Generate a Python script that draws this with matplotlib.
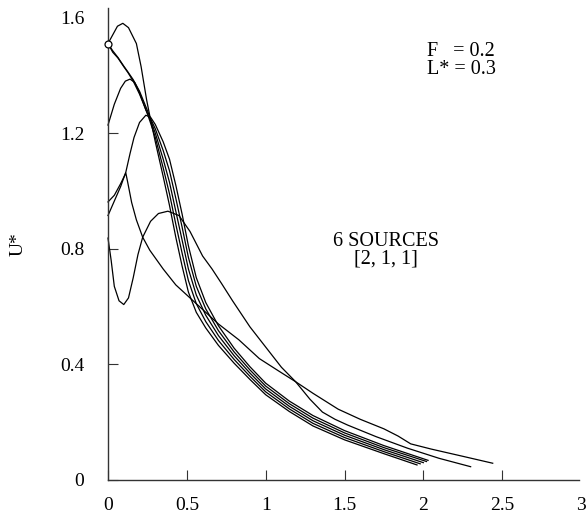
import matplotlib
matplotlib.use('Agg')
import matplotlib.pyplot as plt

plt.rcParams['font.family'] = ['Liberation Serif', 'DejaVu Serif']

# bundle of five curves (tail shared x grid)
tail_x = [0.30, 0.35, 0.39, 0.43, 0.47, 0.51, 0.56, 0.62, 0.70, 0.80, 0.90, 1.00, 1.15, 1.30, 1.50, 1.75]

a_x = [0.0, 0.03, 0.06, 0.094, 0.13, 0.18, 0.21, 0.245, 0.265] + tail_x + [1.96]
a_y = [1.51, 1.54, 1.57, 1.58, 1.565, 1.51, 1.43, 1.315, 1.26,
       1.17, 1.05, 0.95, 0.84, 0.74, 0.65, 0.58, 0.526, 0.466, 0.404, 0.348, 0.295, 0.237, 0.187, 0.139, 0.091, 0.052]

b_x = [0.0, 0.03, 0.063, 0.10, 0.126, 0.16, 0.20, 0.245, 0.27] + tail_x + [1.98]
b_y = [1.51, 1.48, 1.46, 1.43, 1.41, 1.38, 1.335, 1.275, 1.235,
       1.185, 1.08, 0.99, 0.885, 0.785, 0.69, 0.61, 0.548, 0.483, 0.417, 0.359, 0.305, 0.246, 0.196, 0.147, 0.098, 0.056]

c_x = [0.0, 0.04, 0.08, 0.11, 0.14, 0.17, 0.20, 0.24, 0.27] + tail_x + [2.00]
c_y = [1.228, 1.30, 1.355, 1.38, 1.387, 1.375, 1.34, 1.28, 1.245,
       1.20, 1.11, 1.03, 0.93, 0.83, 0.73, 0.64, 0.57, 0.50, 0.43, 0.37, 0.315, 0.255, 0.205, 0.155, 0.105, 0.06]

d_x = [0.0, 0.03, 0.063, 0.10, 0.126, 0.16, 0.20, 0.245, 0.27] + tail_x + [2.02]
d_y = [1.51, 1.485, 1.462, 1.432, 1.412, 1.385, 1.345, 1.285, 1.25,
       1.215, 1.14, 1.07, 0.975, 0.875, 0.77, 0.67, 0.592, 0.517, 0.443, 0.381, 0.325, 0.264, 0.214, 0.163, 0.112, 0.064]

e_x = [0.0, 0.04, 0.08, 0.113, 0.14, 0.165, 0.20, 0.24, 0.27] + tail_x + [2.03]
e_y = [0.915, 0.965, 1.015, 1.065, 1.13, 1.185, 1.237, 1.262, 1.255,
       1.23, 1.17, 1.11, 1.02, 0.92, 0.81, 0.70, 0.614, 0.534, 0.456, 0.392, 0.335, 0.273, 0.223, 0.171, 0.119, 0.068]

# curve with sharp peak near 1.06, ending at 2.44
f_x = [0.0, 0.04, 0.08, 0.113, 0.125, 0.15, 0.18, 0.22, 0.265, 0.35, 0.43, 0.52, 0.58, 0.70, 0.83,
       0.96, 1.08, 1.19, 1.30, 1.46, 1.60, 1.75, 1.84, 1.92, 2.05, 2.25, 2.44]
f_y = [0.962, 0.985, 1.025, 1.062, 1.03, 0.96, 0.90, 0.84, 0.795, 0.73, 0.675, 0.63, 0.60, 0.54, 0.485,
       0.42, 0.378, 0.34, 0.30, 0.245, 0.21, 0.177, 0.152, 0.125, 0.107, 0.082, 0.058]

# curve with dip to 0.6 and peak 0.93, ending at 2.3
g_x = [0.0, 0.02, 0.04, 0.07, 0.10, 0.13, 0.16, 0.19, 0.22, 0.27, 0.32, 0.38, 0.45, 0.52, 0.60, 0.66,
       0.72, 0.79, 0.90, 1.00, 1.10, 1.19, 1.28, 1.36, 1.44, 1.52, 1.70, 1.90, 2.10, 2.30]
g_y = [0.837, 0.76, 0.67, 0.62, 0.607, 0.63, 0.70, 0.78, 0.84, 0.895, 0.922, 0.93, 0.915, 0.86, 0.775, 0.73,
       0.68, 0.62, 0.53, 0.46, 0.39, 0.34, 0.28, 0.235, 0.21, 0.19, 0.15, 0.11, 0.075, 0.046]

curves = [(a_x, a_y), (b_x, b_y), (c_x, c_y), (d_x, d_y), (e_x, e_y), (f_x, f_y), (g_x, g_y)]

x_ticks = [0, 0.5, 1, 1.5, 2, 2.5, 3]
x_labels = ['0', '0.5', '1', '1.5', '2', '2.5', '3']
y_ticks = [0, 0.4, 0.8, 1.2, 1.6]
y_labels = ['0', '0.4', '0.8', '1.2', '1.6']

W, H = 586, 520
fig = plt.figure(figsize=(W / 100, H / 100), dpi=100)
# axes: x=0 at 108 px, x=3 at 581 px, y=0 at 480 px
ax = fig.add_axes([108 / W, 40 / H, 473 / W, 472 / H])

for cx, cy in curves:
    ax.plot(cx, cy, color='black', lw=0.9, clip_on=False)

ax.plot([0], [1.51], marker='o', ms=5, mfc='white', mec='black', mew=0.9, clip_on=False, zorder=5)

ax.set_xlim(0, 3)
ax.set_ylim(0, 1.633)
for s in ['top', 'right']:
    ax.spines[s].set_visible(False)
ax.spines['bottom'].set_bounds(0, 2.985)
for s in ['left', 'bottom']:
    ax.spines[s].set_color('#333333')
    ax.spines[s].set_linewidth(1.0)

ax.set_xticks(x_ticks)
ax.set_xticklabels(x_labels)
ax.set_yticks(y_ticks)
ax.set_yticklabels(y_labels)
ax.tick_params(axis='x', direction='in', length=7, width=0.8, pad=12, labelsize=14, color='#333333')
ax.tick_params(axis='y', direction='in', length=7, width=0.8, pad=17, labelsize=14, color='#333333')
ax.xaxis.get_major_ticks()[-1].tick1line.set_visible(False)
ax.yaxis.get_major_ticks()[-1].tick1line.set_visible(False)

ax.set_ylabel('U*', fontsize=14, labelpad=24)

fig.text(427 / W, 1 - 51 / H, 'F   = 0.2', fontsize=14.5, va='center', ha='left')
fig.text(427 / W, 1 - 69 / H, 'L* = 0.3', fontsize=14.5, va='center', ha='left')

ax.text(1.765, 0.825, '6 SOURCES', fontsize=14.5, ha='center', va='center')
ax.text(1.765, 0.765, '[2, 1, 1]', fontsize=14.5, ha='center', va='center')

plt.savefig('out.png', dpi=100)
